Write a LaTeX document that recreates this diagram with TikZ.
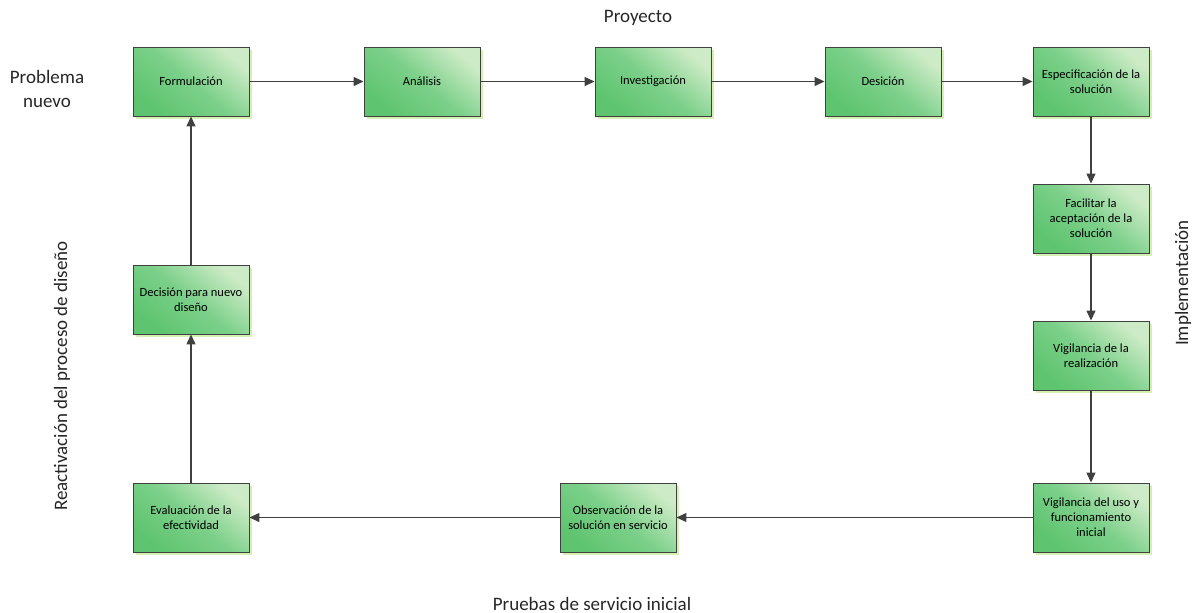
\documentclass[tikz,border=0pt]{standalone}
\usepackage{fontspec}
\setmainfont{Carlito}
\usetikzlibrary{arrows.meta,shadows}
\definecolor{boxdark}{HTML}{5EC46F}
\definecolor{boxlight}{HTML}{CDEBC6}
\definecolor{boxmid}{HTML}{7CD08A}
\definecolor{shadowgreen}{HTML}{D6F0B4}
\definecolor{linegray}{HTML}{404040}
\tikzset{
  stepbox/.style={draw=linegray, line width=0.9pt, minimum width=116pt, minimum height=69pt,
    inner sep=2pt, align=center, font=\fontsize{12.5}{15}\selectfont,
    top color=boxlight, bottom color=boxdark, middle color=boxmid, shading angle=-40,
    general shadow={fill=shadowgreen, shadow xshift=3pt, shadow yshift=-3pt}},
  flow/.style={draw=linegray, line width=1.3pt, -{Triangle[length=10pt,width=9pt]}},
  side/.style={font=\fontsize{19}{24}\selectfont, text=black!85, align=center}
}
\begin{document}
\begin{tikzpicture}[x=1pt,y=-1pt]
\useasboundingbox (0,0) rectangle (1197,613);
% top row
\node[stepbox] (f) at (191,81.5) {Formulación};
\node[stepbox] (a) at (422,81.5) {Análisis};
\node[stepbox] (i) at (653,81.5) {Investigación};
\node[stepbox] (d) at (883,81.5) {Desición};
\node[stepbox] (e) at (1091,81.5) {Especificación de la\\solución};
% right column
\node[stepbox] (fa) at (1091,218.5) {Facilitar la\\aceptación de la\\solución};
\node[stepbox] (v) at (1091,355.5) {Vigilancia de la\\realización};
\node[stepbox] (vu) at (1091,517.5) {Vigilancia del uso y\\funcionamiento\\inicial};
% bottom row
\node[stepbox] (o) at (618,517.5) {Observación de la\\solución en servicio};
\node[stepbox] (ev) at (191,517.5) {Evaluación de la\\efectividad};
% left column
\node[stepbox] (dn) at (191,299.5) {Decisión para nuevo\\diseño};
% connectors
\draw[flow] (f) -- (a);
\draw[flow] (a) -- (i);
\draw[flow] (i) -- (d);
\draw[flow] (d) -- (e);
\draw[flow] (e) -- (fa);
\draw[flow] (fa) -- (v);
\draw[flow] (v) -- (vu);
\draw[flow] (vu) -- (o);
\draw[flow] (o) -- (ev);
\draw[flow] (ev) -- (dn);
\draw[flow] (dn) -- (f);
% phase labels
\node[side] (proy) at (638,18) {Proyecto};
\node[side] (pn) at (47,89) {Problema\\nuevo};
\node[side, rotate=90] (imp) at (1183,283) {Implementación};
\node[side, rotate=90] (rea) at (62,376) {Reactivación del proceso de diseño};
\node[side] (pru) at (592,604) {Pruebas de servicio inicial};
\end{tikzpicture}
\end{document}
